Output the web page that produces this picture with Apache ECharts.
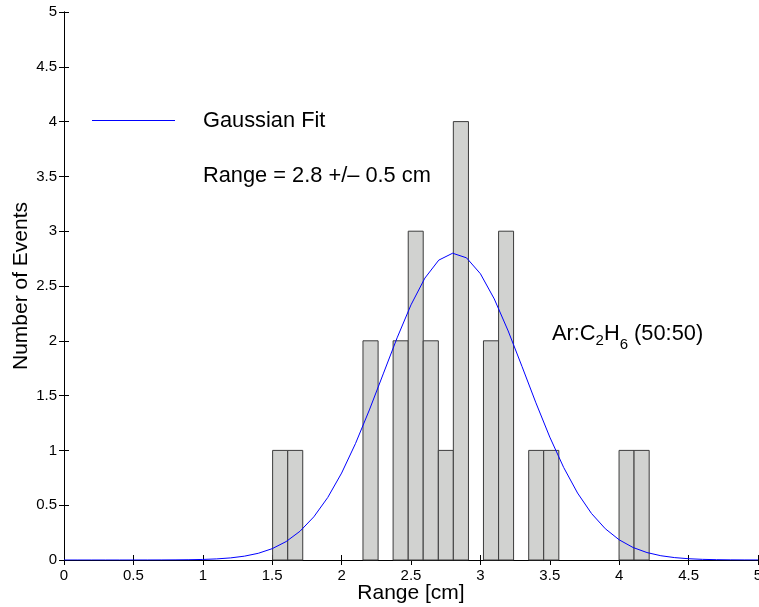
<!DOCTYPE html>
<html>
<head>
<meta charset="utf-8">
<script src="https://cdn.jsdelivr.net/npm/echarts@6/dist/echarts.min.js"></script>
<style>
html,body{margin:0;padding:0;background:#fff;}
#chart{width:759px;height:607px;}
</style>
</head>
<body>
<div id="chart"></div>
<script>
// Histogram bin edges (cm) and event counts per bin
var binEdges = [1.503, 1.612, 1.720, 1.829, 1.937, 2.046, 2.154, 2.263, 2.371, 2.480, 2.588,
                2.697, 2.805, 2.914, 3.022, 3.131, 3.239, 3.348, 3.456, 3.565, 3.673,
                3.782, 3.890, 3.999, 4.107, 4.216];
var binCounts = [1, 1, 0, 0, 0, 0, 2, 0, 2, 3, 2, 1, 4, 0, 2, 3, 0, 1, 1, 0, 0, 0, 0, 1, 1];

// Gaussian fit curve
var fitX = [0.0, 0.1, 0.2, 0.3, 0.4, 0.5, 0.6, 0.7, 0.8, 0.9,
            1.0, 1.1, 1.2, 1.3, 1.4, 1.5, 1.6, 1.7, 1.8, 1.9,
            2.0, 2.1, 2.2, 2.3, 2.4, 2.5, 2.6, 2.7, 2.8, 2.9,
            3.0, 3.1, 3.2, 3.3, 3.4, 3.5, 3.6, 3.7, 3.8, 3.9,
            4.0, 4.1, 4.2, 4.3, 4.4, 4.5, 4.6, 4.7, 4.8, 4.9, 5.0];
var fitY = [0.0, 0.0, 0.0, 0.0, 0.0, 0.0001, 0.0002, 0.0005, 0.0012, 0.0025,
            0.0051, 0.0101, 0.0192, 0.035, 0.0613, 0.1034, 0.1679, 0.262, 0.394, 0.570,
            0.793, 1.062, 1.369, 1.698, 2.027, 2.328, 2.572, 2.736, 2.799, 2.757,
            2.612, 2.382, 2.090, 1.765, 1.434, 1.121, 0.844, 0.611, 0.425, 0.285,
            0.184, 0.114, 0.068, 0.039, 0.0217, 0.0116, 0.0059, 0.0029, 0.0014, 0.0006, 0.0003];

var xTicks = ['0', '0.5', '1', '1.5', '2', '2.5', '3', '3.5', '4', '4.5', '5'];
var yTicks = ['0', '0.5', '1', '1.5', '2', '2.5', '3', '3.5', '4', '4.5', '5'];

var legendLabel = 'Gaussian Fit';
var rangeText = 'Range = 2.8 +/\u2013 0.5 cm';

var FONT = "'Liberation Sans', Arial, Helvetica, sans-serif";

var histData = [];
for (var i = 0; i < binCounts.length; i++) {
  if (binCounts[i] > 0) histData.push([binEdges[i], binEdges[i + 1], binCounts[i]]);
}
var fitData = fitX.map(function (x, i) { return [x, fitY[i]]; });

var chart = echarts.init(document.getElementById('chart'), null, {renderer: 'canvas'});

var axisCommon = {
  type: 'value', min: 0, max: 5, interval: 0.5,
  axisLine: {show: true, lineStyle: {color: '#000', width: 1}},
  axisTick: {show: true, inside: true, length: 5, lineStyle: {color: '#000', width: 1}},
  splitLine: {show: false}
};

function tickFmt(list) {
  return function (v) {
    var idx = Math.round(v / 0.5);
    return list[idx] !== undefined ? list[idx] : '';
  };
}

chart.setOption({
  animation: false,
  backgroundColor: '#fff',
  grid: {left: 64, right: 1, top: 12, bottom: 47, containLabel: false, outerBoundsMode: 'none'},
  xAxis: [
    Object.assign({}, axisCommon, {
      position: 'bottom',
      axisLabel: {show: true, margin: 8, color: '#000', fontSize: 15, fontFamily: FONT, formatter: tickFmt(xTicks)},
      name: 'Range [cm]', nameLocation: 'middle', nameGap: 23, nameMoveOverlap: false,
      nameTextStyle: {color: '#000', fontSize: 21, fontFamily: FONT}
    }),
    Object.assign({}, axisCommon, {
      position: 'top',
      axisLabel: {show: false}
    })
  ],
  yAxis: [
    Object.assign({}, axisCommon, {
      position: 'left',
      axisLabel: {show: true, margin: 7, color: '#000', fontSize: 15, fontFamily: FONT, formatter: tickFmt(yTicks)},
      name: 'Number of Events', nameLocation: 'middle', nameGap: 32, nameRotate: 90, nameMoveOverlap: false,
      nameTextStyle: {color: '#000', fontSize: 21, fontFamily: FONT}
    }),
    Object.assign({}, axisCommon, {
      position: 'right',
      axisLabel: {show: false}
    })
  ],
  series: [
    {
      type: 'custom',
      name: 'Histogram',
      xAxisIndex: 0, yAxisIndex: 0,
      encode: {x: [0, 1], y: 2},
      data: histData,
      renderItem: function (params, api) {
        var p0 = api.coord([api.value(0), api.value(2)]);
        var p1 = api.coord([api.value(1), 0]);
        return {
          type: 'rect',
          shape: {x: p0[0], y: p0[1], width: p1[0] - p0[0], height: p1[1] - p0[1]},
          style: {fill: '#d1d2d0', stroke: '#3c3c3c', lineWidth: 1}
        };
      }
    },
    {
      type: 'line',
      name: legendLabel,
      xAxisIndex: 0, yAxisIndex: 0,
      data: fitData,
      showSymbol: false, symbol: 'none',
      lineStyle: {color: '#0000ff', width: 1},
      itemStyle: {color: '#0000ff'},
      z: 5
    }
  ],
  graphic: [
    {
      type: 'line', shape: {x1: 92, y1: 120.5, x2: 175, y2: 120.5},
      style: {stroke: '#0000ff', lineWidth: 1}, z: 10
    },
    {
      type: 'text', x: 203, y: 121,
      style: {text: legendLabel, font: '21.8px ' + FONT, fill: '#000', verticalAlign: 'middle'},
      z: 10
    },
    {
      type: 'text', x: 203, y: 176,
      style: {text: rangeText, font: '21.8px ' + FONT, fill: '#000', verticalAlign: 'middle'},
      z: 10
    },
    {
      type: 'text', x: 552, y: 334,
      style: {
        text: '{m|Ar:C}{s1|2}{m|H}{s2|6}{m| (50:50)}',
        verticalAlign: 'middle',
        fill: '#000',
        rich: {
          m: {fontSize: 21.8, fontFamily: FONT, lineHeight: 24, color: '#000'},
          s1: {fontSize: 15, fontFamily: FONT, lineHeight: 16, padding: [14, 0, 0, 0], color: '#000'},
          s2: {fontSize: 15, fontFamily: FONT, lineHeight: 16, padding: [22, 0, 0, 0], color: '#000'}
        }
      },
      z: 10
    }
  ]
});
</script>
</body>
</html>
